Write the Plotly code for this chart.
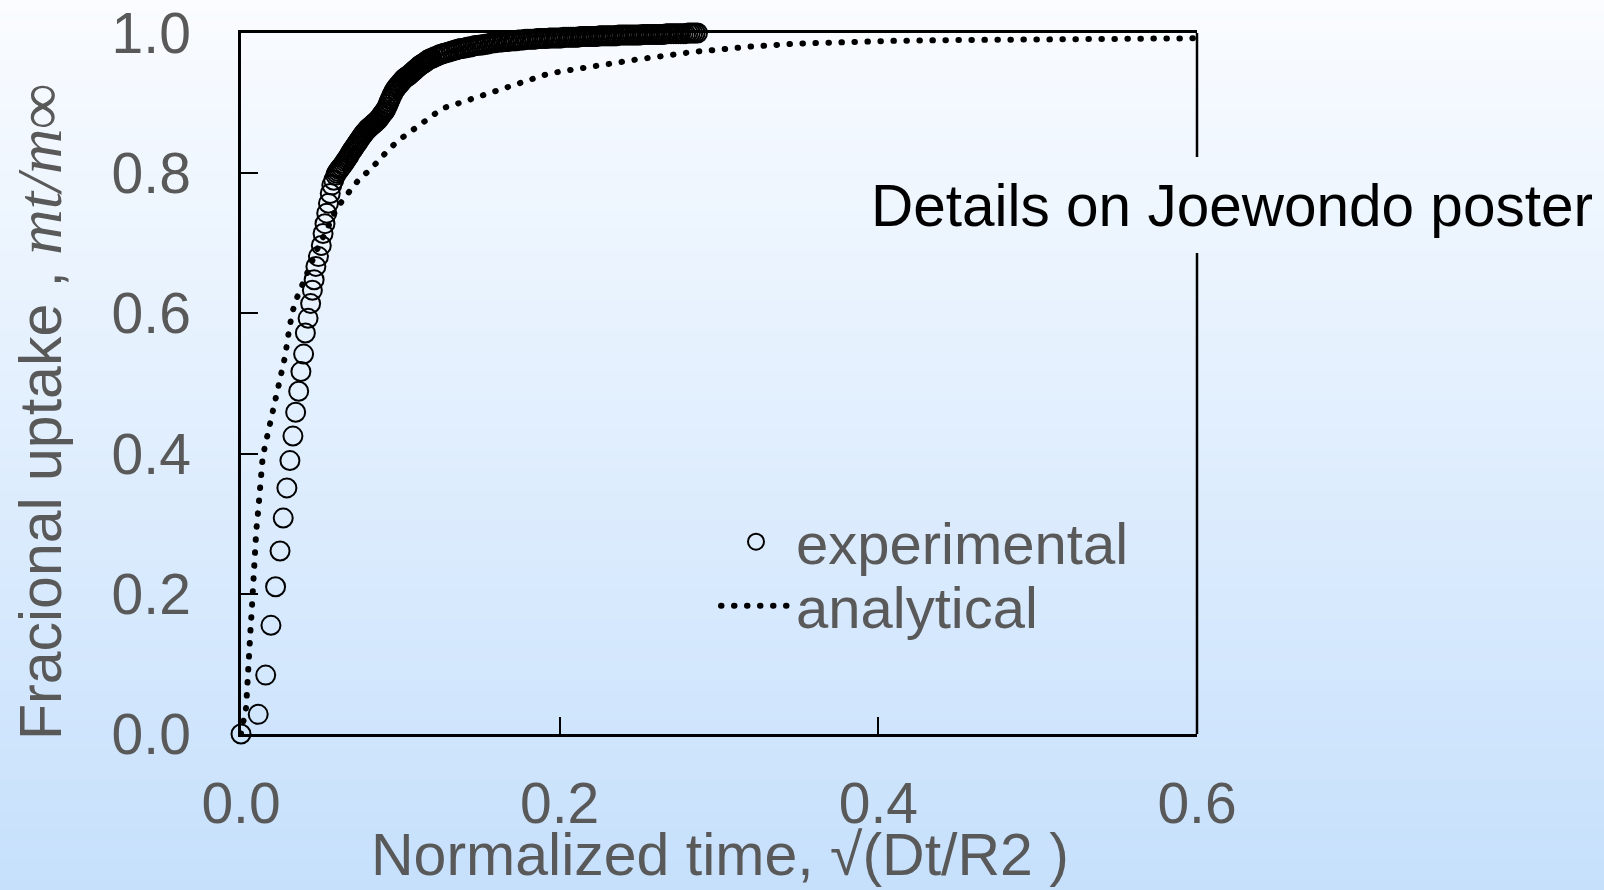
import plotly.graph_objects as go

# ---------------- data ----------------
exp_x_main = [0.0, 0.0108, 0.0155, 0.0188, 0.0217, 0.0245, 0.0265, 0.0288, 0.0307, 0.0326,
              0.0343, 0.0362, 0.0376, 0.0393, 0.0404, 0.0421, 0.0437, 0.0448, 0.0459, 0.0470,
              0.0486, 0.0504, 0.0515, 0.0527, 0.0538, 0.0549, 0.0560, 0.0570, 0.0582, 0.0594,
              0.0600, 0.0615, 0.0630, 0.0645, 0.0660, 0.0675, 0.0690, 0.0705, 0.0720, 0.0735,
              0.0750, 0.0765, 0.0780, 0.0795, 0.0810, 0.0825, 0.0840, 0.0855, 0.0870, 0.0885,
              0.0900, 0.0915, 0.0930, 0.0945, 0.0960, 0.0975, 0.0990, 0.1005, 0.1020, 0.1035,
              0.1050, 0.1065, 0.1080, 0.1095, 0.1110, 0.1125, 0.1140, 0.1155, 0.1170, 0.1185,
              0.1200, 0.1215, 0.1230, 0.1245, 0.1260, 0.1275, 0.1290, 0.1305, 0.1320, 0.1335,
              0.1350, 0.1365, 0.1380, 0.1395, 0.1410, 0.1425, 0.1440, 0.1455, 0.1470, 0.1485,
              0.1500, 0.1515, 0.1530, 0.1545, 0.1560, 0.1575, 0.1590, 0.1605, 0.1620, 0.1635,
              0.1650, 0.1665, 0.1680, 0.1695, 0.1710, 0.1725, 0.1740, 0.1755, 0.1770, 0.1785,
              0.1800, 0.1815, 0.1830, 0.1845, 0.1860, 0.1875, 0.1890, 0.1905, 0.1920, 0.1935,
              0.1950, 0.1965, 0.1980, 0.1995, 0.2010, 0.2025, 0.2040, 0.2055, 0.2070, 0.2085,
              0.2100, 0.2115, 0.2130, 0.2145, 0.2160, 0.2175, 0.2190, 0.2205, 0.2220, 0.2235,
              0.2250, 0.2265, 0.2280, 0.2295, 0.2310, 0.2325, 0.2340, 0.2355, 0.2370, 0.2385,
              0.2400, 0.2415, 0.2430, 0.2445, 0.2460, 0.2475, 0.2490, 0.2505, 0.2520, 0.2535,
              0.2550, 0.2565, 0.2580, 0.2595, 0.2610, 0.2625, 0.2640, 0.2655, 0.2670, 0.2685,
              0.2700, 0.2715, 0.2730, 0.2745, 0.2760, 0.2775, 0.2790, 0.2805, 0.2820, 0.2835,
              0.2850, 0.2865]
exp_y_main = [0.000, 0.028, 0.084, 0.155, 0.210, 0.261, 0.308, 0.351, 0.390, 0.425,
              0.459, 0.489, 0.517, 0.542, 0.572, 0.593, 0.614, 0.633, 0.648, 0.667,
              0.681, 0.697, 0.714, 0.728, 0.743, 0.757, 0.771, 0.783, 0.790, 0.797,
              0.800, 0.805, 0.809, 0.814, 0.819, 0.824, 0.830, 0.835, 0.840, 0.845,
              0.850, 0.855, 0.859, 0.863, 0.866, 0.869, 0.872, 0.875, 0.879, 0.884,
              0.888, 0.894, 0.902, 0.910, 0.917, 0.922, 0.926, 0.930, 0.934, 0.937,
              0.939, 0.942, 0.945, 0.948, 0.951, 0.954, 0.956, 0.958, 0.961, 0.963,
              0.964, 0.966, 0.967, 0.969, 0.970, 0.971, 0.972, 0.973, 0.974, 0.975,
              0.976, 0.977, 0.978, 0.978, 0.979, 0.980, 0.980, 0.981, 0.982, 0.982,
              0.983, 0.983, 0.984, 0.984, 0.985, 0.986, 0.986, 0.987, 0.987, 0.987,
              0.988, 0.988, 0.988, 0.989, 0.989, 0.989, 0.990, 0.990, 0.990, 0.991,
              0.991, 0.991, 0.991, 0.991, 0.992, 0.992, 0.992, 0.992, 0.992, 0.993,
              0.993, 0.993, 0.993, 0.993, 0.993, 0.994, 0.994, 0.994, 0.994, 0.994,
              0.994, 0.994, 0.995, 0.995, 0.995, 0.995, 0.995, 0.995, 0.995, 0.995,
              0.996, 0.996, 0.996, 0.996, 0.996, 0.996, 0.996, 0.996, 0.997, 0.997,
              0.997, 0.997, 0.997, 0.997, 0.997, 0.997, 0.997, 0.997, 0.998, 0.998,
              0.998, 0.998, 0.998, 0.998, 0.998, 0.998, 0.998, 0.998, 0.999, 0.999,
              0.999, 0.999, 0.999, 0.999, 0.999, 0.999, 0.999, 1.000, 1.000, 1.000,
              1.000, 1.000]
# extra readings where the experimental band is densest (0.06 - 0.12)
exp_x_dense = [0.06075, 0.06225, 0.06375, 0.06525, 0.06675, 0.06825, 0.06975, 0.07125,
               0.07275, 0.07425, 0.07575, 0.07725, 0.07875, 0.08025, 0.08175, 0.08325,
               0.08475, 0.08625, 0.08775, 0.08925, 0.09075, 0.09225, 0.09375, 0.09525,
               0.09675, 0.09825, 0.09975, 0.10125, 0.10275, 0.10425, 0.10575, 0.10725,
               0.10875, 0.11025, 0.11175, 0.11325, 0.11475, 0.11625, 0.11775, 0.11925]
exp_y_dense = [0.8025, 0.8070, 0.8115, 0.8165, 0.8215, 0.8270, 0.8325, 0.8375,
               0.8425, 0.8475, 0.8525, 0.8570, 0.8610, 0.8645, 0.8675, 0.8705,
               0.8735, 0.8770, 0.8815, 0.8860, 0.8910, 0.8980, 0.9060, 0.9135,
               0.9195, 0.9240, 0.9280, 0.9320, 0.9355, 0.9380, 0.9405, 0.9435,
               0.9465, 0.9495, 0.9525, 0.9550, 0.9570, 0.9595, 0.9620, 0.9635]

ana_x = [0.0000, 0.0017, 0.0033, 0.0037, 0.0040, 0.0046, 0.0052, 0.0056, 0.0061, 0.0067,
         0.0071, 0.0075, 0.0079, 0.0086, 0.0090, 0.0096, 0.0105, 0.0111, 0.0117, 0.0125,
         0.0134, 0.0148, 0.0167, 0.0184, 0.0203, 0.0222, 0.0243, 0.0263, 0.0280, 0.0290,
         0.0303, 0.0320, 0.0345, 0.0378, 0.0410, 0.0475, 0.0540, 0.0590, 0.0639, 0.0683,
         0.0746, 0.0809, 0.0861, 0.0924, 0.0986, 0.1055, 0.1122, 0.1189, 0.1265, 0.1342,
         0.1421, 0.1505, 0.1586, 0.1670, 0.1749, 0.1833, 0.1917, 0.2000, 0.2084, 0.2167,
         0.2250, 0.2334, 0.2422, 0.2506, 0.2591, 0.2675, 0.2759, 0.2846, 0.2930, 0.3014,
         0.3190, 0.3500, 0.3820, 0.4130, 0.4550, 0.4966, 0.5386, 0.6000]
ana_y = [0.000, 0.020, 0.039, 0.058, 0.077, 0.097, 0.116, 0.136, 0.154, 0.174,
         0.194, 0.214, 0.233, 0.252, 0.272, 0.291, 0.311, 0.330, 0.350, 0.369,
         0.389, 0.408, 0.427, 0.447, 0.466, 0.485, 0.504, 0.523, 0.542, 0.560,
         0.579, 0.600, 0.619, 0.638, 0.657, 0.690, 0.720, 0.745, 0.762, 0.776,
         0.7927, 0.8046, 0.8188, 0.833, 0.8464, 0.858, 0.870, 0.882, 0.8926, 0.898,
         0.904, 0.910, 0.916, 0.9226, 0.929, 0.935, 0.941, 0.9448, 0.948, 0.951,
         0.954, 0.958, 0.9615, 0.963, 0.9653, 0.9686, 0.971, 0.9733, 0.9748, 0.9768,
         0.9805, 0.985, 0.9875, 0.989, 0.990, 0.991, 0.9916, 0.9925]

x_tick_vals = [0.0, 0.2, 0.4, 0.6]
x_tick_text = ["0.0", "0.2", "0.4", "0.6"]
y_tick_vals = [0.0, 0.2, 0.4, 0.6, 0.8, 1.0]
y_tick_text = ["0.0", "0.2", "0.4", "0.6", "0.8", "1.0"]

series_names = ["experimental", "analytical"]
x_title = "Normalized time, √(Dt/R2 )"
y_title_plain = "Fracional uptake , "
y_title_math = "mt/m∞"
note_text = "Details on Joewondo poster"

# ---------------- figure ----------------
W, H = 1604, 890
L, R, T, B = 241, 407, 33, 156
PW, PH = W - L - R, H - T - B
GRAY = "#595959"
FONT = "Liberation Sans, Arial, sans-serif"

def px_to_paper_x(px):
    return (px - L) / PW

def px_to_paper_y(py):
    return (H - B - py) / PH

fig = go.Figure()

fig.add_trace(go.Scatter(
    x=exp_x_main + exp_x_dense, y=exp_y_main + exp_y_dense,
    mode="markers", name=series_names[0],
    marker=dict(symbol="circle-open", size=19, color="black", line=dict(width=2)),
    cliponaxis=False, legend="legend",
))
fig.add_trace(go.Scatter(
    x=ana_x, y=ana_y, mode="lines", name=series_names[1],
    line=dict(color="black", width=6, dash="0.5px,12.5px"),
    cliponaxis=False, legend="legend2",
))

# gradient background built from horizontal strips
shapes = []
n_strips = 89
top_c = (250, 252, 255)
bot_c = (198, 224, 252)
for i in range(n_strips):
    y0 = i * 10
    y1 = min(H, (i + 1) * 10 + 1)
    t = (y0 + 5) / H
    c = tuple(round(top_c[k] + (bot_c[k] - top_c[k]) * t) for k in range(3))
    shapes.append(dict(
        type="rect", xref="paper", yref="paper", layer="below",
        x0=px_to_paper_x(0), x1=px_to_paper_x(W),
        y0=px_to_paper_y(y1), y1=px_to_paper_y(y0),
        line=dict(width=0), fillcolor="rgb(%d,%d,%d)" % c,
    ))

# right frame edge, interrupted where the note text sits
gap_top_px, gap_bot_px = 157, 253
for (ya, yb) in [(0.0, px_to_paper_y(gap_bot_px)), (px_to_paper_y(gap_top_px), 1.0)]:
    shapes.append(dict(type="line", xref="paper", yref="paper", layer="above",
                       x0=1, x1=1, y0=ya, y1=yb, line=dict(color="black", width=2.5)))

axis_common = dict(
    showline=True, linecolor="black", linewidth=2.5,
    ticks="inside", ticklen=17, tickwidth=1.5, tickcolor="black",
    showgrid=False, zeroline=False,
    tickfont=dict(family=FONT, size=57, color=GRAY),
)

legend_common = dict(xanchor="left", yanchor="middle", bgcolor="rgba(0,0,0,0)",
                     borderwidth=0, itemwidth=70,
                     font=dict(family=FONT, size=58, color=GRAY))

fig.update_layout(
    width=W, height=H,
    margin=dict(l=L, r=R, t=T, b=B, autoexpand=False),
    paper_bgcolor="rgb(224,238,253)",
    plot_bgcolor="rgba(0,0,0,0)",
    shapes=shapes,
    xaxis=dict(range=[0, 0.6], tickvals=x_tick_vals, ticktext=x_tick_text,
               ticklabelstandoff=18, mirror=True, **axis_common),
    yaxis=dict(range=[0, 1], tickvals=y_tick_vals, ticktext=y_tick_text,
               ticklabelstandoff=36, mirror=False, **axis_common),
    legend=dict(x=px_to_paper_x(716), y=px_to_paper_y(542), **legend_common),
    legend2=dict(x=px_to_paper_x(716), y=px_to_paper_y(606), **legend_common),
    showlegend=True,
    annotations=[
        dict(text=x_title, xref="paper", yref="paper",
             x=px_to_paper_x(720), y=px_to_paper_y(820), xanchor="center", yanchor="top",
             showarrow=False, font=dict(family=FONT, size=59, color=GRAY)),
        dict(text=y_title_plain + '<span style="font-family:Liberation Serif;font-size:63px"><i>'
             + y_title_math + '</i></span>',
             xref="paper", yref="paper", textangle=-90,
             x=px_to_paper_x(40), y=px_to_paper_y(412), xanchor="center", yanchor="middle",
             showarrow=False, font=dict(family=FONT, size=59, color=GRAY)),
        dict(text=note_text, xref="paper", yref="paper",
             x=px_to_paper_x(1232), y=px_to_paper_y(205), xanchor="center", yanchor="middle",
             showarrow=False, font=dict(family=FONT, size=58.5, color="black")),
    ],
)

post_js = """
document.body.style.margin = '0';
document.body.style.padding = '0';
document.documentElement.style.overflow = 'hidden';
var gd = document.getElementById('{plot_id}');
function roundCaps(){
  gd.querySelectorAll('path.js-line').forEach(function(p){
    var da = p.style.strokeDasharray || p.getAttribute('stroke-dasharray');
    if (da && da !== 'none' && da !== '') { p.style.strokeLinecap = 'round'; }
  });
}
roundCaps();
if (gd.on) { gd.on('plotly_afterplot', roundCaps); }
"""

fig.write_html("out.html", post_script=post_js, config={"displayModeBar": False})
